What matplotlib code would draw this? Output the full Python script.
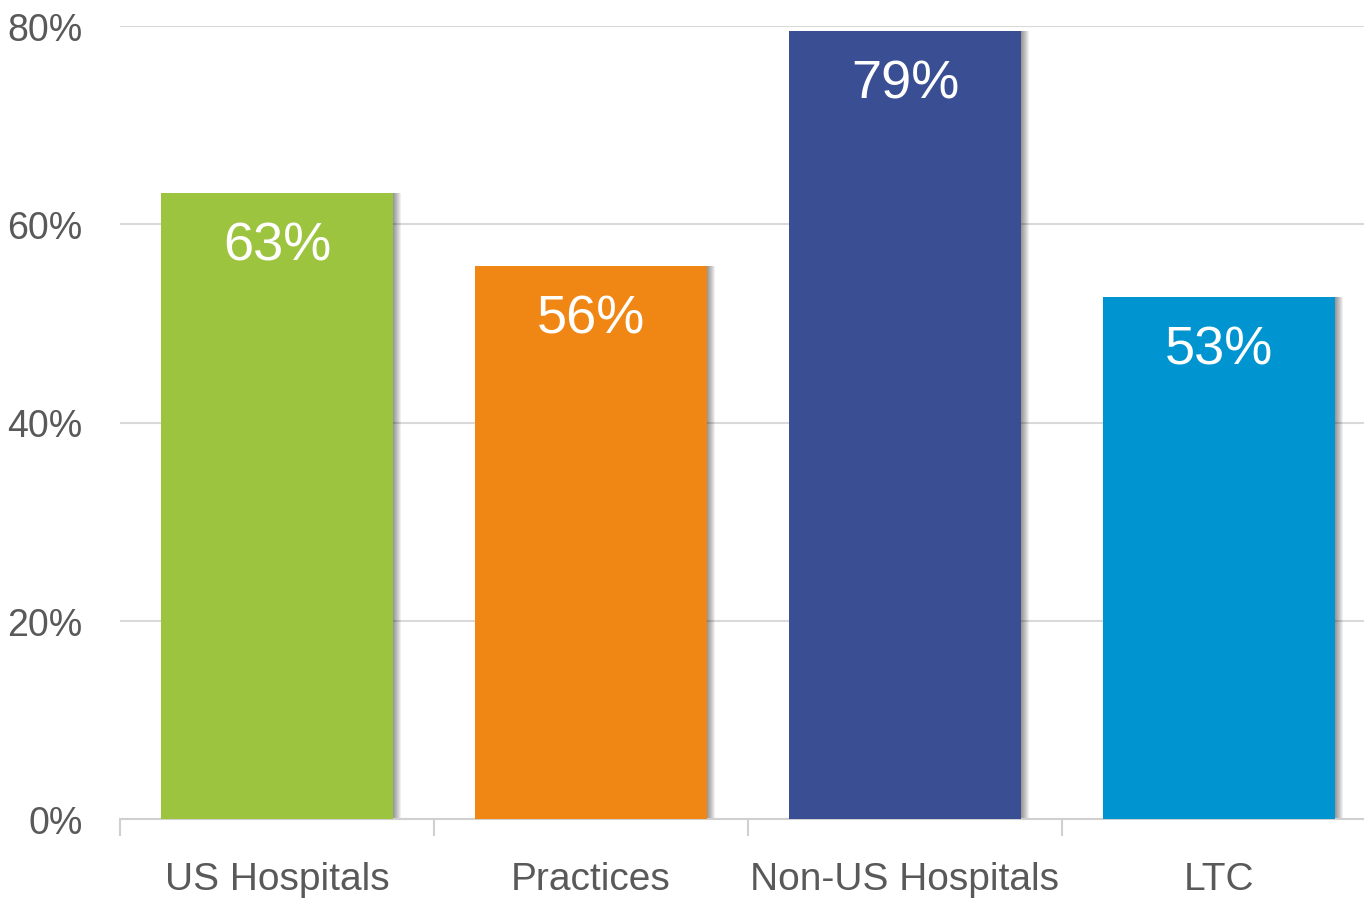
import numpy as np
import matplotlib.pyplot as plt

categories = ["US Hospitals", "Practices", "Non-US Hospitals", "LTC"]
values = [63.2, 55.8, 79.5, 52.7]
labels = ["63%", "56%", "79%", "53%"]
colors = ["#9dc43f", "#f08613", "#3a4f93", "#0094d0"]
yticks = [0, 20, 40, 60, 80]

plt.rcParams['font.family'] = ['Liberation Sans Narrow', 'Liberation Sans', 'DejaVu Sans']

fig = plt.figure(figsize=(13.64, 9.03), dpi=100)
ax = fig.add_axes([120 / 1364, 83 / 903, 1256 / 1364, 793 / 903])

x = np.arange(len(categories))
w = 0.742
px = 1 / 314  # one pixel in data units along x

# soft shadow on the right side of each bar
for k in range(1, 9):
    ax.bar(x + k * px, values, width=w, color="black", alpha=0.06, zorder=2, linewidth=0)
ax.bar(x, values, width=w, color=colors, zorder=3, linewidth=0)

for xi, v, lab in zip(x, values, labels):
    ax.text(xi, v - 2.8, lab, ha="center", va="top", color="white", fontsize=39, zorder=4)

ax.set_xlim(-0.5, 3.5)
ax.set_ylim(0, 80)
ax.set_yticks(yticks)
ax.set_yticklabels([f"{t}%" for t in yticks])
ax.yaxis.grid(True, color="#d9d9d9", linewidth=1.5, zorder=0)
ax.set_axisbelow(True)

ax.set_xticks(x)
ax.set_xticklabels(categories)
ax.set_xticks(np.arange(-0.5, 4, 1), minor=True)
ax.tick_params(axis="x", which="major", length=0, pad=30, labelsize=28, labelcolor="#595959")
ax.tick_params(axis="x", which="minor", length=12, width=1.5, color="#d0d0d0", direction="out")
ax.tick_params(axis="y", length=0, pad=27, labelsize=27, labelcolor="#595959")

for s in ["top", "right", "left"]:
    ax.spines[s].set_visible(False)
ax.spines["bottom"].set_color("#d0d0d0")
ax.spines["bottom"].set_linewidth(1.5)

fig.savefig("out.png", dpi=100)
